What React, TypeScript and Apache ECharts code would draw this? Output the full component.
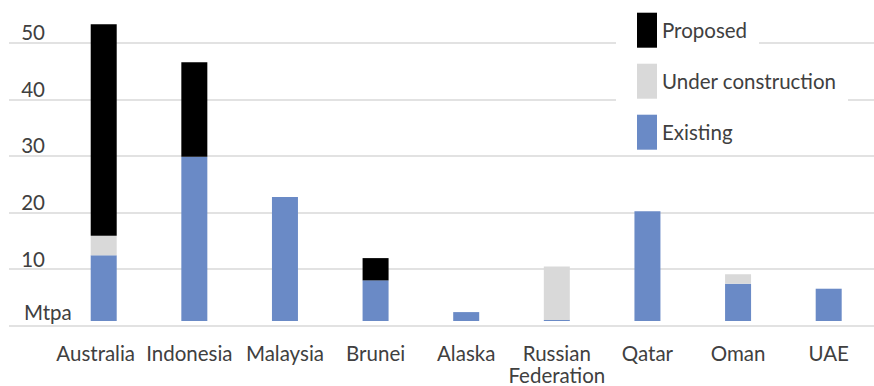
import React, { useEffect, useRef } from "react";
import * as echarts from "echarts";

const categories = ["Australia", "Indonesia", "Malaysia", "Brunei", "Alaska", "Russian\nFederation", "Qatar", "Oman", "UAE"];
const existing = [11.8, 29.5, 22.3, 7.3, 1.6, 0.2, 19.7, 6.7, 5.8];
const underConstruction = [3.5, 0, 0, 0, 0, 9.6, 0, 1.7, 0];
const proposed = [38, 17, 0, 4.0, 0, 0, 0, 0, 0];
const yTicks = [0, 10, 20, 30, 40, 50];
const unitLabel = "Mtpa";

const FONT = "Lato";
const TEXT = "#404040";
const FS = 20.5;

export default function App() {
  const ref = useRef<HTMLDivElement>(null);
  useEffect(() => {
    if (!ref.current) return;
    const chart = echarts.init(ref.current, null, { renderer: "svg" });
    const top = 42.7;
    const bottom = 60.3;
    const catData = categories.map((c, i) => {
      if (i === 0) return { value: c, textStyle: { padding: [0, 16, 0, 0] } };
      if (i === 1) return { value: c, textStyle: { padding: [0, 10, 0, 0] } };
      return c;
    });
    chart.setOption({
      animation: false,
      grid: [
        { left: 9, right: 0, top, bottom },
        { left: 58.4, right: -16.9, top, bottom },
      ],
      xAxis: [
        { gridIndex: 0, type: "category", data: categories, show: false },
        {
          gridIndex: 1,
          type: "category",
          data: catData,
          axisLine: { show: false },
          axisTick: { show: false },
          axisLabel: {
            interval: 0,
            margin: 21,
            fontFamily: FONT,
            fontSize: FS,
            color: TEXT,
            lineHeight: 22,
          },
        },
      ],
      yAxis: [
        {
          gridIndex: 0,
          type: "value",
          min: yTicks[0],
          max: yTicks[yTicks.length - 1],
          interval: 10,
          axisLine: { show: false },
          axisTick: { show: false },
          splitLine: { show: true, lineStyle: { color: "#d9d9d9", width: 1.5 } },
          axisLabel: {
            margin: -36,
            align: "right",
            verticalAlign: "bottom",
            fontFamily: FONT,
            fontSize: FS,
            color: TEXT,
            formatter: (v: number) => (v === 0 ? "" : String(v)),
          },
        },
        {
          gridIndex: 1,
          type: "value",
          min: yTicks[0],
          max: yTicks[yTicks.length - 1],
          interval: 10,
          show: false,
          splitLine: { show: false },
        },
      ],
      legend: {
        orient: "vertical",
        left: 632,
        top: 7.7,
        itemWidth: 20,
        itemHeight: 35,
        itemGap: 16,
        icon: "rect",
        z: 5,
        data: ["Proposed", "Under construction", "Existing"],
        textStyle: { fontFamily: FONT, fontSize: FS, color: TEXT },
      },
      graphic: [
        { type: "rect", z: 3, shape: { x: 616, y: 8, width: 143, height: 44 }, style: { fill: "#fff" } },
        { type: "rect", z: 3, shape: { x: 616, y: 59, width: 232, height: 44 }, style: { fill: "#fff" } },
        {
          type: "text",
          z: 3,
          style: { text: unitLabel, x: 24, y: 322, verticalAlign: "bottom", fontFamily: FONT, fontSize: FS, fill: TEXT },
        },
      ],
      series: [
        { name: "Existing", type: "bar", stack: "t", xAxisIndex: 1, yAxisIndex: 1, barWidth: 26, clip: false, data: existing, itemStyle: { color: "#6a8ac6" } },
        { name: "Under construction", type: "bar", stack: "t", xAxisIndex: 1, yAxisIndex: 1, barWidth: 26, clip: false, data: underConstruction, itemStyle: { color: "#d9d9d9" } },
        { name: "Proposed", type: "bar", stack: "t", xAxisIndex: 1, yAxisIndex: 1, barWidth: 26, clip: false, data: proposed, itemStyle: { color: "#000000" } },
      ],
    });
    return () => chart.dispose();
  }, []);
  return <div ref={ref} style={{ width: 874, height: 386, position: "absolute", left: 0, top: 0 }} />;
}
